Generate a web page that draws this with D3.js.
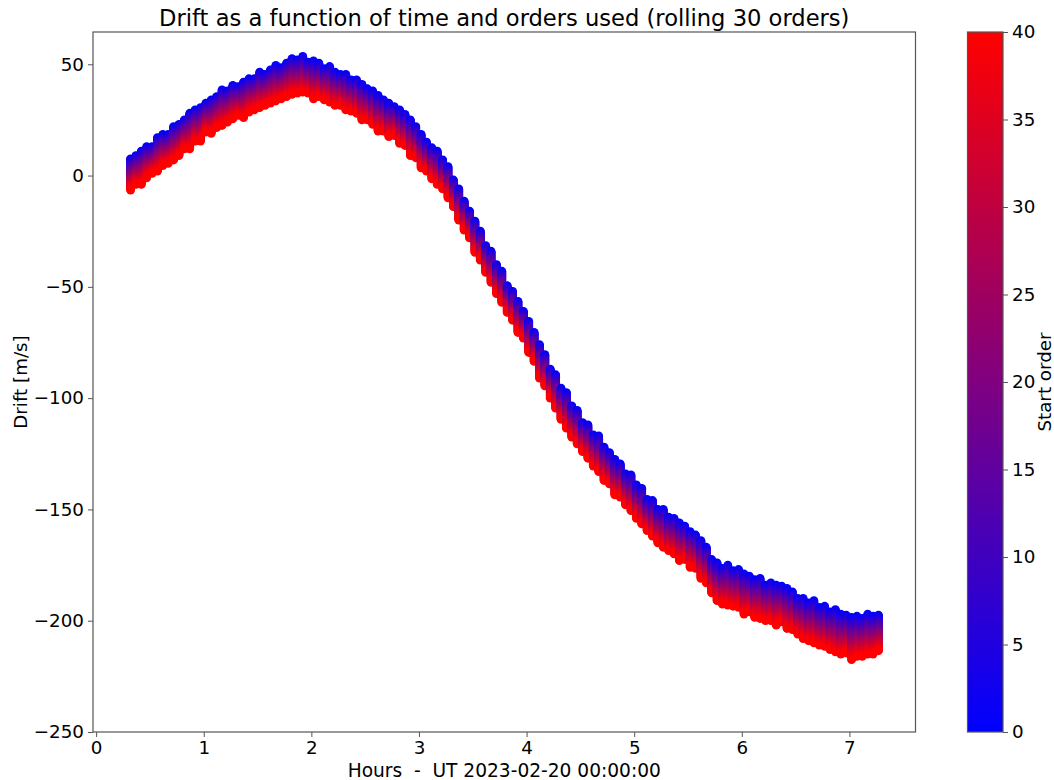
<!DOCTYPE html>
<html>
<head>
<meta charset="utf-8">
<script src="https://cdn.jsdelivr.net/npm/d3@7"></script>
<style>
  body { margin: 0; background: #fff; }
  svg { display: block; font-family: "DejaVu Sans", sans-serif; }
  text { white-space: pre; }
</style>
</head>
<body>
<svg id="chart" width="1054" height="780"></svg>
<script>
// ---- Data ----
const hours = [
  0.32,0.37,0.42,0.47,0.52,0.57,0.62,0.67,0.72,0.77,
  0.82,0.87,0.92,0.97,1.02,1.07,1.12,1.17,1.22,1.27,
  1.32,1.37,1.42,1.47,1.52,1.57,1.62,1.67,1.72,1.77,
  1.82,1.87,1.92,1.97,2.02,2.07,2.12,2.17,2.22,2.27,
  2.32,2.37,2.42,2.47,2.52,2.57,2.62,2.67,2.72,2.77,
  2.82,2.87,2.92,2.97,3.02,3.07,3.12,3.17,3.22,3.27,
  3.32,3.37,3.42,3.47,3.52,3.57,3.62,3.67,3.72,3.77,
  3.82,3.87,3.92,3.97,4.02,4.07,4.12,4.17,4.22,4.27,
  4.32,4.37,4.42,4.47,4.52,4.57,4.62,4.67,4.72,4.77,
  4.82,4.87,4.92,4.97,5.02,5.07,5.12,5.17,5.22,5.27,
  5.32,5.37,5.42,5.47,5.52,5.57,5.62,5.67,5.72,5.77,
  5.82,5.87,5.92,5.97,6.02,6.07,6.12,6.17,6.22,6.27,
  6.32,6.37,6.42,6.47,6.52,6.57,6.62,6.67,6.72,6.77,
  6.82,6.87,6.92,6.97,7.02,7.07,7.12,7.17,7.22,7.27
];
// centre of the band (mid start order), m/s
const driftCentre = [
  0.5, 2.5, 3.5, 6.0, 7.0, 9.5, 11.5, 12.0, 14.5, 16.0,
  18.5, 20.0, 22.5, 23.0, 26.0, 26.5, 28.5, 30.5, 31.0, 33.0,
  33.5, 34.0, 36.0, 36.5, 38.5, 38.5, 40.0, 41.5, 41.5, 43.0,
  44.5, 44.5, 45.5, 44.0, 43.0, 43.0, 41.0, 41.0, 39.0, 38.5,
  37.5, 36.0, 35.5, 33.0, 32.0, 30.5, 28.0, 27.0, 25.0, 24.5,
  22.0, 20.5, 17.0, 15.0, 11.0, 8.5, 5.5, 3.5, 0.5, -3.0,
  -8.0, -13.0, -18.0, -22.0, -27.5, -31.5, -37.5, -41.0, -46.5, -50.0,
  -55.5, -58.5, -63.5, -67.0, -72.5, -77.0, -83.5, -87.5, -93.5, -97.0,
  -102.5, -105.5, -110.5, -113.0, -117.5, -119.5, -123.5, -125.0, -129.5, -131.5,
  -135.5, -137.0, -141.0, -142.5, -146.5, -148.5, -152.5, -154.0, -157.5, -158.5,
  -161.0, -162.0, -164.5, -165.0, -168.0, -169.0, -172.5, -175.0, -180.0, -182.5,
  -184.5, -184.0, -185.5, -185.5, -188.0, -188.0, -190.0, -190.0, -192.0, -191.5,
  -193.0, -192.5, -194.5, -195.5, -198.0, -199.0, -200.5, -200.5, -202.5, -202.5,
  -204.5, -204.5, -206.0, -206.0, -208.0, -207.0, -207.5, -206.0, -206.5, -205.5
];
// half spread of the band (order 0 above centre, order 40 below), m/s
const halfSpread = [
  7.0, 6.5, 7.5, 7.0, 6.0, 7.5, 7.0, 6.5, 7.5, 7.0,
  6.5, 8.0, 7.0, 7.5, 6.5, 7.5, 7.0, 8.0, 7.0, 7.5,
  6.5, 8.0, 7.5, 7.0, 8.0, 7.0, 7.5, 8.0, 7.0, 7.5,
  8.0, 7.5, 8.0, 7.0, 8.5, 7.5, 7.0, 8.0, 7.5, 7.0,
  8.0, 7.0, 7.5, 8.0, 7.0, 7.5, 8.0, 7.0, 7.5, 6.5,
  7.5, 7.0, 8.0, 7.0, 7.5, 6.5, 7.0, 7.5, 6.5, 7.0,
  6.0, 7.0, 6.5, 6.0, 7.0, 6.5, 6.0, 7.0, 6.5, 7.0,
  6.0, 6.5, 7.0, 6.0, 7.0, 6.5, 7.5, 7.0, 6.5, 7.5,
  7.0, 8.0, 7.0, 7.5, 6.5, 7.5, 7.0, 8.0, 7.5, 7.0,
  8.0, 7.5, 7.0, 8.0, 7.5, 8.0, 7.0, 8.0, 7.5, 8.5,
  7.5, 8.0, 8.5, 7.5, 8.0, 7.5, 8.5, 8.0, 7.5, 8.5,
  8.0, 9.0, 8.0, 8.5, 9.0, 8.0, 8.5, 9.0, 8.0, 8.5,
  9.0, 8.0, 9.0, 8.5, 8.0, 9.0, 8.5, 9.5, 8.5, 9.0,
  8.5, 9.5, 9.0, 8.5, 9.5, 9.0, 8.5, 9.0, 8.5, 8.0
];
const startOrders = [
  0,1,2,3,4,5,6,7,8,9,10,11,12,13,14,15,16,17,18,19,20,
  21,22,23,24,25,26,27,28,29,30,31,32,33,34,35,36,37,38,39,40
];
// relative position of each start order inside the band (+1 top, -1 bottom)
const orderPosition = [
  1.00, 0.95, 0.90, 0.85, 0.80, 0.75, 0.70, 0.65, 0.60, 0.55, 0.50,
  0.45, 0.40, 0.35, 0.30, 0.25, 0.20, 0.15, 0.10, 0.05, 0.00,
  -0.05, -0.10, -0.15, -0.20, -0.25, -0.30, -0.35, -0.40, -0.45, -0.50,
  -0.55, -0.60, -0.65, -0.70, -0.75, -0.80, -0.85, -0.90, -0.95, -1.00
];
const xTicks = [0,1,2,3,4,5,6,7];
const yTicks = [50,0,-50,-100,-150,-200,-250];
const cbTicks = [0,5,10,15,20,25,30,35,40];

const titleText = "Drift as a function of time and orders used (rolling 30 orders)";
const xLabel = "Hours  -  UT 2023-02-20 00:00:00";
const yLabel = "Drift [m/s]";
const cbLabel = "Start order";

// ---- Layout ----
const svg = d3.select("#chart");
const L = 93, R = 915.5, T = 32, B = 732;
const x = d3.scaleLinear().domain([-0.029, 7.614]).range([L, R]);
const y = d3.scaleLinear().domain([-250, 64.5]).range([B, T]);
const color = d3.scaleLinear().domain([0, 40]).range(["#0000ff", "#ff0000"]).interpolate(d3.interpolateRgb);

const tickFont = 18.3;
const spineColor = "#555";

// points
const pts = [];
hours.forEach((h, i) => {
  startOrders.forEach((o, k) => {
    pts.push({h: h, v: driftCentre[i] + orderPosition[k] * halfSpread[i], o: o});
  });
});
svg.append("clipPath").attr("id", "clip").append("rect")
  .attr("x", L).attr("y", T).attr("width", R - L).attr("height", B - T);
svg.append("g").attr("clip-path", "url(#clip)")
  .selectAll("circle").data(pts).join("circle")
  .attr("cx", d => x(d.h)).attr("cy", d => y(d.v)).attr("r", 4.4)
  .attr("fill", d => color(d.o));

// axes
const xAxis = d3.axisBottom(x).tickValues(xTicks).tickSize(5).tickPadding(4).tickFormat(d3.format("d"));
const gx = svg.append("g").attr("transform", `translate(0,${B})`).call(xAxis);
const yAxis = d3.axisLeft(y).tickValues(yTicks).tickSize(5).tickPadding(4)
  .tickFormat(d => d < 0 ? "\u2212" + Math.abs(d) : String(d));
const gy = svg.append("g").attr("transform", `translate(${L},0)`).call(yAxis);
[gx, gy].forEach(g => {
  g.select(".domain").remove();
  g.selectAll("line").attr("stroke", spineColor).attr("stroke-width", 1);
  g.selectAll("text").attr("font-size", tickFont).attr("fill", "#000")
    .attr("font-family", "DejaVu Sans, sans-serif");
});
// frame
svg.append("rect").attr("x", L).attr("y", T).attr("width", R - L).attr("height", B - T)
  .attr("fill", "none").attr("stroke", spineColor).attr("stroke-width", 1.2);

// title and labels
svg.append("text").attr("x", (L + R) / 2).attr("y", 26).attr("text-anchor", "middle")
  .attr("font-size", 22.6).text(titleText);
svg.append("text").attr("x", (L + R) / 2).attr("y", 776.5).attr("text-anchor", "middle")
  .attr("font-size", 18.6).text(xLabel);
svg.append("text").attr("transform", `translate(27,${(T + B) / 2}) rotate(-90)`)
  .attr("text-anchor", "middle").attr("font-size", tickFont).text(yLabel);

// colorbar
const CL = 967.5, CR = 1003;
const cy = d3.scaleLinear().domain([0, 40]).range([B, T]);
const defs = svg.append("defs");
const grad = defs.append("linearGradient").attr("id", "cbgrad")
  .attr("x1", 0).attr("y1", 1).attr("x2", 0).attr("y2", 0);
grad.selectAll("stop").data(cbTicks).join("stop")
  .attr("offset", d => d / 40).attr("stop-color", d => color(d));
svg.append("rect").attr("x", CL).attr("y", T).attr("width", CR - CL).attr("height", B - T)
  .attr("fill", "url(#cbgrad)").attr("stroke", spineColor).attr("stroke-width", 1.2);
const cAxis = d3.axisRight(cy).tickValues(cbTicks).tickSize(5).tickPadding(4);
const gc = svg.append("g").attr("transform", `translate(${CR},0)`).call(cAxis);
gc.select(".domain").remove();
gc.selectAll("line").attr("stroke", spineColor).attr("stroke-width", 1);
gc.selectAll("text").attr("font-size", tickFont).attr("fill", "#000")
  .attr("font-family", "DejaVu Sans, sans-serif");
svg.append("text").attr("transform", `translate(1051,${(T + B) / 2}) rotate(-90)`)
  .attr("text-anchor", "middle").attr("font-size", tickFont).text(cbLabel);
</script>
</body>
</html>
